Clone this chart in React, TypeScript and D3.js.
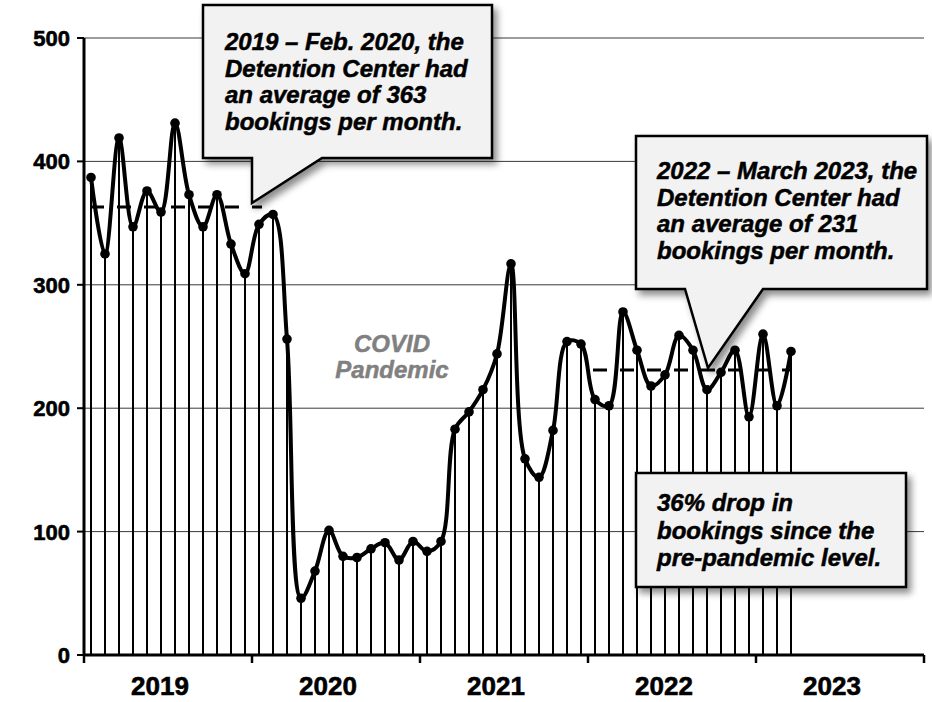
import React from "react";
import * as d3 from "d3";

const years = ["2019", "2020", "2021", "2022", "2023"];
const yTicks = [0, 100, 200, 300, 400, 500];
const bookings2019 = [387, 325, 419, 347, 376, 359, 431, 373, 347, 373, 333, 309];
const bookings2020 = [349, 357, 256, 46, 68, 101, 80, 79, 86, 91, 77, 92];
const bookings2021 = [84, 92, 183, 197, 215, 244, 317, 159, 144, 182, 254, 252];
const bookings2022 = [207, 202, 278, 247, 218, 227, 259, 247, 215, 229, 247, 193];
const bookings2023 = [260, 202, 246];
const avgPre = 363;
const avgPost = 231;
const preRange = [0, 12];
const postRange = [36, 50];
const callout1 = ["2019 – Feb. 2020, the", "Detention Center had", "an average of 363", "bookings per month."];
const callout2 = ["2022 – March 2023, the", "Detention Center had", "an average of 231", "bookings per month."];
const callout3 = ["36% drop in", "bookings since the", "pre-pandemic level."];
const covidLabel = ["COVID", "Pandemic"];

const values = [...bookings2019, ...bookings2020, ...bookings2021, ...bookings2022, ...bookings2023];

const FONT = "'Liberation Sans', Arial, sans-serif";

export default function App() {
  const W = 932, H = 702;
  const left = 84, right = 924, top = 38, bottom = 655;
  const x = d3.scaleLinear().domain([0, 60]).range([left, right]);
  const y = d3.scaleLinear().domain([0, 500]).range([bottom, top]);
  const px = (i: number) => x(i + 0.5);
  const line = d3
    .line<number>()
    .x((_, i) => px(i))
    .y((d) => y(d))
    .curve(d3.curveCatmullRom.alpha(0.5));
  const path = line(values) || "";

  const textStyle = {
    fontFamily: FONT,
    fontWeight: 700,
    fontStyle: "italic" as const,
    fontSize: 24,
    stroke: "#000",
    strokeWidth: 0.5,
  };

  return (
    <svg width={W} height={H} style={{ position: "absolute", left: 0, top: 0, background: "#fff" }}>
      <defs>
        <filter id="shadow" x="-10%" y="-10%" width="130%" height="140%">
          <feDropShadow dx="4" dy="5" stdDeviation="3.5" floodColor="#000" floodOpacity="0.45" />
        </filter>
      </defs>
      {/* gridlines */}
      {yTicks.filter((t) => t > 0).map((t) => (
        <line key={t} x1={left} x2={right} y1={y(t)} y2={y(t)} stroke="#3a3a3a" strokeWidth={1} />
      ))}
      {/* drop lines */}
      {values.map((v, i) => (
        <line key={"d" + i} x1={px(i)} x2={px(i)} y1={y(v)} y2={bottom} stroke="#000" strokeWidth={2} />
      ))}
      {/* average dashed lines */}
      <line x1={px(preRange[0]) - 1} x2={px(preRange[1]) + 3} y1={y(avgPre)} y2={y(avgPre)} stroke="#000" strokeWidth={3} strokeDasharray="14,13" />
      <line x1={px(postRange[0]) - 2} x2={px(postRange[1])} y1={y(avgPost)} y2={y(avgPost)} stroke="#000" strokeWidth={3} strokeDasharray="14,13" />
      {/* curve */}
      <path d={path} fill="none" stroke="#000" strokeWidth={4} strokeLinejoin="round" />
      {values.map((v, i) => (
        <circle key={"m" + i} cx={px(i)} cy={y(v)} r={4.8} fill="#000" />
      ))}
      {/* axes */}
      <line x1={left} x2={left} y1={top} y2={bottom} stroke="#000" strokeWidth={3} />
      <line x1={left} x2={right} y1={bottom} y2={bottom} stroke="#000" strokeWidth={3} />
      {yTicks.map((t) => (
        <g key={"yt" + t}>
          <line x1={left - 7} x2={left} y1={y(t)} y2={y(t)} stroke="#000" strokeWidth={2} />
          <text x={70} y={y(t)} dy="0.36em" textAnchor="end" fontFamily={FONT} fontWeight={700} fontSize={22} fill="#000" stroke="#000" strokeWidth={0.6}>
            {t}
          </text>
        </g>
      ))}
      {d3.range(0, 61, 12).map((m) => (
        <line key={"xt" + m} x1={x(m)} x2={x(m)} y1={bottom} y2={bottom + 8} stroke="#000" strokeWidth={2.5} />
      ))}
      {years.map((yr, i) => (
        <text key={yr} x={x(i * 12 + 6) - 8} y={695} textAnchor="middle" fontFamily={FONT} fontWeight={700} fontSize={26} fill="#000" stroke="#000" strokeWidth={0.6}>
          {yr}
        </text>
      ))}
      {/* COVID label */}
      {covidLabel.map((s, i) => (
        <text key={s} x={392} y={352 + i * 25.5} textAnchor="middle" {...textStyle} stroke="#808080" fill="#808080">
          {s}
        </text>
      ))}
      {/* callout 1 */}
      <path
        d="M203,5 H492 V158 H322 L252,203 V158 H203 Z"
        fill="#f2f2f2"
        stroke="#000"
        strokeWidth={2.5}
        strokeLinejoin="miter"
        filter="url(#shadow)"
      />
      {callout1.map((s, i) => (
        <text key={s} x={225} y={50 + i * 26.5} {...textStyle} fill="#000">
          {s}
        </text>
      ))}
      {/* callout 2 */}
      <path
        d="M636,136 H927 V289 H763 L708,368 L685,289 H636 Z"
        fill="#f2f2f2"
        stroke="#000"
        strokeWidth={2.5}
        filter="url(#shadow)"
      />
      {callout2.map((s, i) => (
        <text key={s} x={657} y={179 + i * 26.5} {...textStyle} fill="#000">
          {s}
        </text>
      ))}
      {/* callout 3 */}
      <rect x={636} y={473} width={270} height={114} fill="#f2f2f2" stroke="#000" strokeWidth={2.5} filter="url(#shadow)" />
      {callout3.map((s, i) => (
        <text key={s} x={657} y={511 + i * 27.5} {...textStyle} fill="#000">
          {s}
        </text>
      ))}
    </svg>
  );
}
